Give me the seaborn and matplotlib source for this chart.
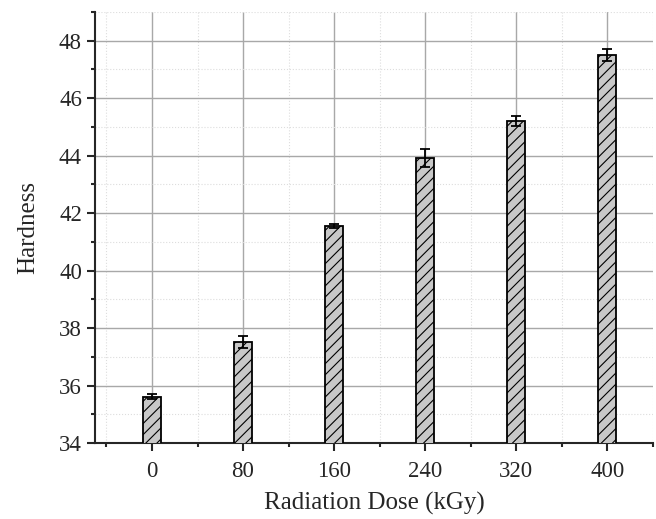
import numpy as np
import pandas as pd
import seaborn as sns
import matplotlib.pyplot as plt
from matplotlib.ticker import MultipleLocator

# data
doses = ['0', '80', '160', '240', '320', '400']
hardness = [35.62, 37.52, 41.55, 43.92, 45.20, 47.50]
hardness_err = [0.08, 0.20, 0.08, 0.30, 0.18, 0.20]

df = pd.DataFrame({'Dose': doses, 'Hardness': hardness})

sns.set_style('ticks')
plt.rcParams['font.family'] = ['Liberation Serif', 'DejaVu Serif']
plt.rcParams['hatch.linewidth'] = 0.8

fig = plt.figure(figsize=(6.56, 5.19), dpi=100)
ax = fig.add_axes([0.145, 0.146, 0.85, 0.831])

sns.barplot(data=df, x='Dose', y='Hardness', order=doses, width=0.2,
            color='#c8c8c8', edgecolor='black', linewidth=1.3,
            hatch='///', errorbar=None, ax=ax, zorder=3)
ax.errorbar(np.arange(len(doses)), hardness, yerr=hardness_err, fmt='none',
            ecolor='black', elinewidth=1.3, capsize=3.5, capthick=1.3, zorder=4)

ax.set_ylim(34, 49)
ax.set_xlim(-0.625, 5.5)
ax.yaxis.set_major_locator(MultipleLocator(2))
ax.yaxis.set_minor_locator(MultipleLocator(1))
ax.xaxis.set_minor_locator(MultipleLocator(0.5))

ax.grid(which='major', color='#a8a8a8', linewidth=1, zorder=0)
ax.grid(which='minor', color='#dddddd', linewidth=0.8, linestyle=':', zorder=0)
ax.set_axisbelow(True)

for s in ['top', 'right']:
    ax.spines[s].set_visible(False)
for s in ['left', 'bottom']:
    ax.spines[s].set_linewidth(1.5)

ax.tick_params(which='major', direction='out', length=6, width=1.5, labelsize=16.5)
ax.tick_params(axis='x', which='major', pad=7)
ax.tick_params(which='minor', direction='out', length=3, width=1.5)

ax.set_xlabel('Radiation Dose (kGy)', fontsize=18, labelpad=7)
ax.set_ylabel('Hardness', fontsize=18, labelpad=14)

fig.savefig('out.png', dpi=100)
